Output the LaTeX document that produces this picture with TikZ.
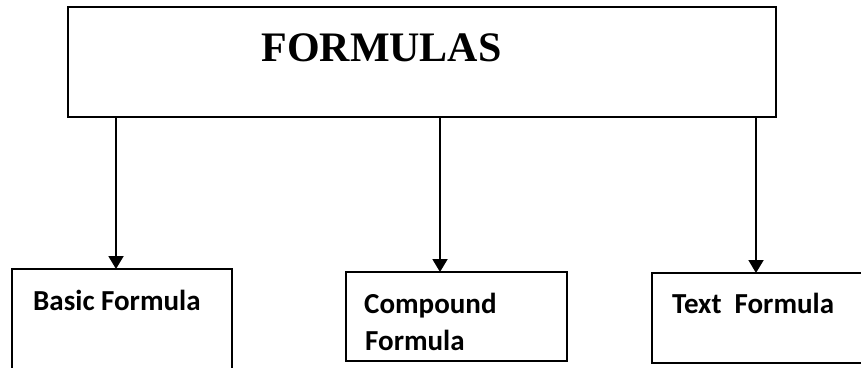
\documentclass[tikz,border=0pt]{standalone}
\usepackage{fontspec}
\setmainfont{Liberation Serif}
\newfontfamily\calib{Carlito}
\usetikzlibrary{arrows.meta}
\tikzset{
  boxnode/.style={draw=black, line width=1.8pt, inner sep=0pt, outer sep=0pt, rectangle},
  lbl/.style={inner sep=0pt, anchor=base west, font=\calib\bfseries\fontsize{29}{37}\selectfont, align=left},
  conn/.style={line width=1.9pt, -{Triangle[width=15pt,length=13pt]}}
}
\begin{document}
\begin{tikzpicture}[x=1pt,y=-1pt]
\clip (0,0) rectangle (861,367);
\fill[white] (0,0) rectangle (861,367);
% boxes
\node[boxnode, minimum width=708pt, minimum height=110pt] (top) at (422,62) {};
\node[boxnode, minimum width=220pt, minimum height=131pt] (basic) at (122,334.5) {};
\node[boxnode, minimum width=221pt, minimum height=89pt] (compound) at (456.5,316.5) {};
\node[boxnode, minimum width=248pt, minimum height=90pt] (textf) at (776,318) {};
% texts
\node[inner sep=0pt, anchor=base, font=\bfseries\fontsize{42}{50}\selectfont] (title) at (381.5,61) {FORMULAS};
\node[lbl] (tbasic) at (33,310) {Basic Formula};
\node[lbl] (tcomp1) at (364,313) {Compound};
\node[lbl] (tcomp2) at (365,350) {Formula};
\node[lbl] (ttext) at (672,313) {Text~~Formula};
% arrow positions
\coordinate (a1) at (116,0);
\coordinate (a2) at (440,0);
\coordinate (a3) at (756,0);
\draw[conn] (top.south -| a1) -- (basic.north -| a1);
\draw[conn] (top.south -| a2) -- (compound.north -| a2);
\draw[conn] (top.south -| a3) -- (textf.north -| a3);
\end{tikzpicture}
\end{document}
